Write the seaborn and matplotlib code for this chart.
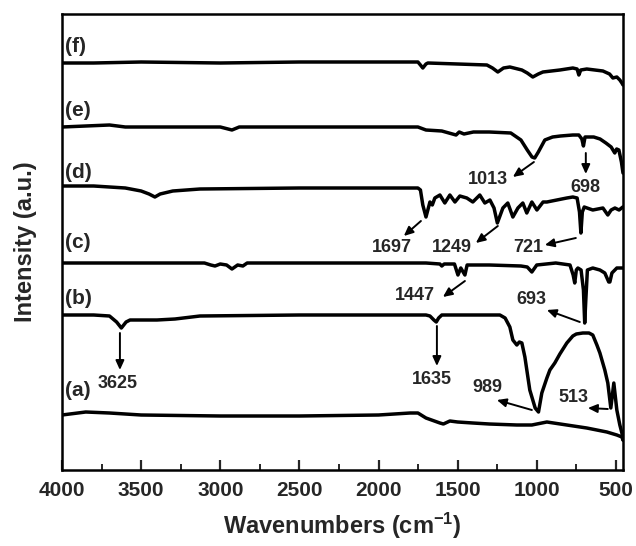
import matplotlib
matplotlib.use("Agg")
import matplotlib.pyplot as plt
import seaborn as sns

# ---------------- data (wavenumber, offset intensity) ----------------
A_wn = [4000, 3850, 3700, 3500, 3000, 2500, 2000, 1800, 1751, 1700, 1612, 1590, 1549, 1500,
        1404, 1300, 1126, 1031, 936, 810, 684, 557, 494, 462, 455]
A_int = [55, 58, 57, 55, 54, 54, 55, 57, 57, 52, 47, 46, 49, 48,
         47, 46, 45, 45, 48, 45, 42, 38, 35, 33, 30]

B_wn = [4000, 3800, 3700, 3655, 3625, 3595, 3570, 3400, 3286, 3128, 2500, 2000, 1700, 1675,
        1650, 1635, 1620, 1600, 1233, 1200, 1170, 1151, 1126, 1110, 1094, 1075, 1044, 1010,
        989, 968, 936, 917, 886, 854, 810, 772, 750, 709, 670, 646, 620, 601, 570, 551, 532,
        513, 494, 475, 462, 455]
B_int = [155, 155, 154, 148, 142, 148, 150, 150, 151, 154, 155, 155, 155, 154,
         150, 148, 152, 155, 155, 152, 143, 130, 125, 128, 127, 113, 80, 62,
         58, 77, 92, 100, 107, 116, 127, 134, 136, 137, 137, 135, 125, 117, 100, 87, 62,
         87, 60, 45, 37, 30]

C_wn = [4000, 3500, 3100, 3060, 3033, 3000, 2960, 2926, 2890, 2857, 2830, 2000, 1700, 1612,
        1600, 1585, 1520, 1498, 1480, 1454, 1440, 1300, 1100, 1060, 1031, 1000, 880, 790,
        770, 760, 750, 740, 720, 705, 697, 690, 680, 646, 601, 570, 545, 538, 525, 494, 470, 456]
C_int = [207, 207, 207, 205, 204, 206, 205, 201, 205, 204, 207, 207, 207, 206,
         204, 206, 206, 195, 202, 195, 205, 205, 204, 203, 198, 205, 207, 205,
         195, 187, 200, 202, 200, 180, 147, 170, 200, 202, 200, 197, 188, 188, 197, 202, 202, 202]

D_wn = [4000, 3800, 3600, 3500, 3450, 3413, 3380, 3300, 3128, 2500, 2000, 1751, 1735, 1720,
        1700, 1675, 1660, 1644, 1612, 1581, 1549, 1517, 1486, 1442, 1404, 1360, 1328, 1296,
        1270, 1249, 1214, 1183, 1151, 1119, 1088, 1063, 1031, 999, 960, 936, 873, 810, 772,
        745, 730, 721, 712, 700, 646, 582, 551, 530, 506, 480, 456]
D_int = [284, 284, 282, 279, 276, 273, 276, 279, 281, 282, 282, 282, 280, 265,
         253, 268, 265, 272, 275, 267, 275, 268, 274, 272, 268, 275, 267, 270,
         262, 247, 262, 267, 253, 262, 267, 257, 268, 260, 268, 268, 270, 272, 273,
         272, 258, 237, 258, 263, 260, 262, 255, 260, 262, 260, 263]

E_wn = [4000, 3850, 3700, 3600, 3300, 3000, 2926, 2880, 2500, 2000, 1751, 1700, 1600, 1510,
        1490, 1460, 1400, 1300, 1164, 1100, 1060, 1030, 1013, 990, 949, 900, 850, 772, 734,
        715, 705, 695, 640, 600, 563, 530, 507, 495, 481, 465, 455]
E_int = [343, 344, 345, 343, 343, 343, 340, 343, 343, 343, 343, 340, 339, 335,
         338, 336, 338, 338, 337, 330, 320, 313, 312, 318, 330, 333, 334, 335, 335,
         331, 324, 333, 333, 331, 327, 323, 317, 321, 320, 308, 297]

F_wn = [4000, 3800, 3500, 3000, 2500, 2000, 1751, 1735, 1720, 1700, 1688, 1500, 1315, 1280,
        1246, 1210, 1170, 1094, 1060, 1025, 990, 961, 854, 772, 745, 734, 722, 684, 582, 540,
        519, 494, 475, 462, 455]
F_int = [407, 407, 408, 407, 408, 408, 408, 405, 402, 406, 407, 406, 405, 402,
         398, 402, 403, 400, 397, 393, 396, 398, 400, 402, 401, 395, 400, 401, 399, 396,
         392, 393, 390, 387, 385]

series_labels = ["(a)", "(b)", "(c)", "(d)", "(e)", "(f)"]
label_y = [80, 172, 227, 298, 360, 423]

peak_labels = ["3625", "1635", "989", "513", "1447", "693", "1697", "1249", "721", "1013", "698"]
peak_text_xy = [(3646, 87), (1663, 90), (1309, 82), (766, 72), (1770, 175), (1037, 170),
                (1915, 222), (1536, 222), (1056, 222), (1309, 290), (690, 283)]
arrow_tail = [(3634, 137), (1631, 144), (1031, 60), (551, 61), (1454, 189), (728, 148),
              (1732, 249), (1246, 244), (753, 232), (1018, 308), (690, 317)]
arrow_head = [(3634, 100), (1631, 104), (1252, 70), (677, 62), (1593, 173), (936, 160),
              (1840, 234), (1385, 227), (949, 225), (1151, 293), (690, 296)]

# ---------------- style ----------------
sns.set_style("white")
plt.rcParams["font.family"] = ["Liberation Sans", "DejaVu Sans"]
plt.rcParams["font.weight"] = "bold"
plt.rcParams["mathtext.fontset"] = "custom"
plt.rcParams["mathtext.rm"] = "Liberation Sans:bold"
plt.rcParams["mathtext.default"] = "rm"

fig = plt.figure(figsize=(6.36, 5.46), dpi=100)
ax = fig.add_axes([62 / 636, 76 / 546, 561 / 636, 456 / 546])

for wn, val in [(A_wn, A_int), (B_wn, B_int), (C_wn, C_int),
                (D_wn, D_int), (E_wn, E_int), (F_wn, F_int)]:
    sns.lineplot(x=wn, y=val, ax=ax, color="black", lw=2.5, sort=False, estimator=None)

ax.set_xlim(4000, 455)
ax.set_ylim(0, 456)
ax.set_xticks(list(range(4000, 499, -500)))
ax.set_xticks(list(range(3750, 700, -500)), minor=True)
ax.set_yticks([])
ax.tick_params(axis="x", which="major", direction="in", length=7, width=1.6,
               labelsize=15, pad=8, bottom=True, top=False)
ax.tick_params(axis="x", which="minor", direction="in", length=4, width=1.4,
               bottom=True, top=False)
for lab in ax.get_xticklabels():
    lab.set_fontweight("bold")
for sp in ax.spines.values():
    sp.set_linewidth(1.8)
    sp.set_color("black")

ax.set_xlabel("Wavenumbers (cm$^{-1}$)", fontsize=17, fontweight="bold", labelpad=8)
ax.set_ylabel("Intensity (a.u.)", fontsize=17, fontweight="bold", labelpad=18)

for lab, yy in zip(series_labels, label_y):
    ax.text(3978, yy, lab, fontsize=15, fontweight="bold", ha="left", va="center")

for lab, txy, tail, head in zip(peak_labels, peak_text_xy, arrow_tail, arrow_head):
    ax.text(txy[0], txy[1], lab, fontsize=13, fontweight="bold", ha="center", va="center")
    ax.annotate("", xy=head, xytext=tail,
                arrowprops=dict(arrowstyle="-|>,head_length=0.55,head_width=0.25",
                                color="black", lw=1.4, shrinkA=0, shrinkB=0))

fig.savefig("out.png", dpi=100)
